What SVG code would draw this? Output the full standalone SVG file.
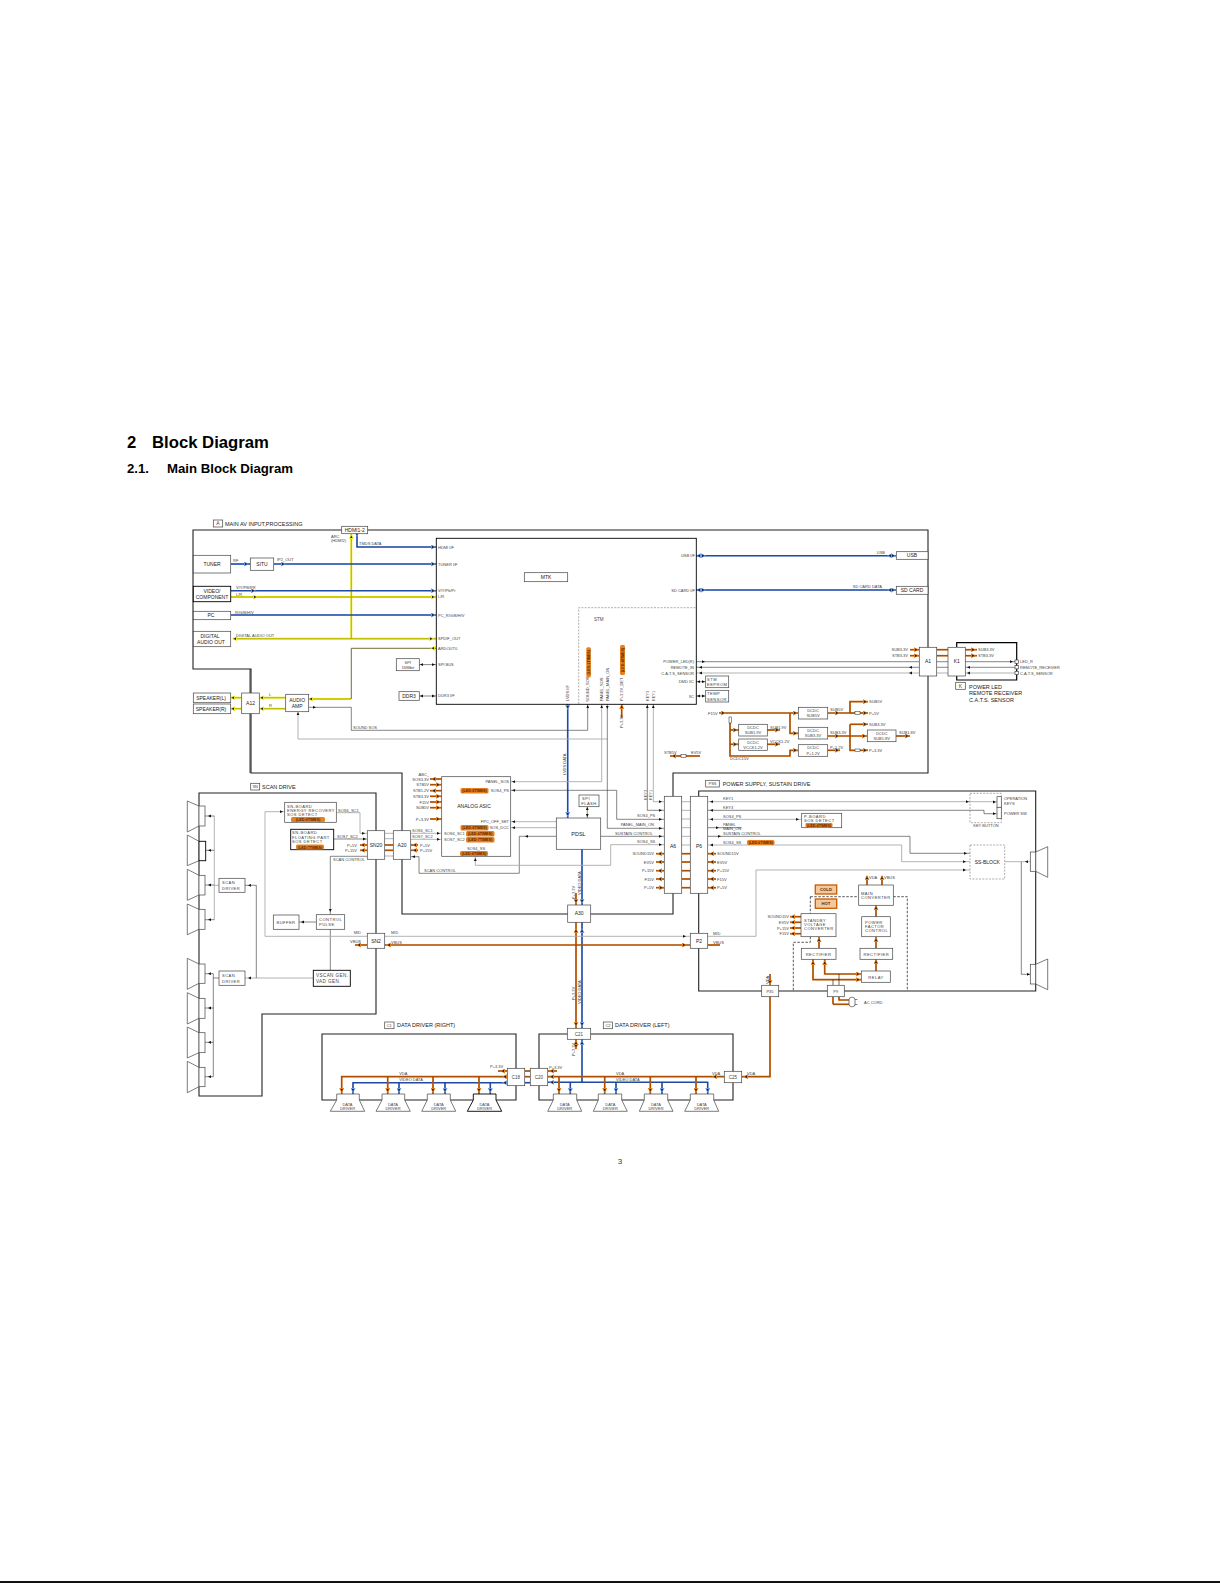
<svg xmlns="http://www.w3.org/2000/svg" width="1220" height="1583" viewBox="0 0 1220 1583">
<style>
text{font-family:"Liberation Sans",Arial,sans-serif;fill:#333}
.h1{font-weight:bold;font-size:16.7px;fill:#000}
.h2{font-weight:bold;font-size:13.2px;fill:#000}
.s{font-size:4px;fill:#444}
#n-energy .s,#n-floating .s,#n-scan1 .s,#n-scan2 .s,#n-control .s,#n-buffer .s,#n-main .s,#n-standby .s,#n-rect1 .s,#n-rect2 .s,#n-pfc .s,#n-relay .s,#n-pboard .s,#n-eeprom .s,#n-temp .s,#n-flash .s{font-size:4.1px;letter-spacing:.45px}
#n-vscan .s{font-size:4.6px;letter-spacing:.4px}
#n-spi .s{font-size:4.2px}
.e{text-anchor:end}
.m{text-anchor:middle}
.t{font-size:5px;text-anchor:middle;fill:#222}
.sec{font-size:5.5px;fill:#222}
.c{font-size:3.7px;text-anchor:middle;fill:#5a2500;font-weight:bold}
.chip{fill:#e8801e;stroke:none}
rect,polygon{fill:#fff;stroke:#444;stroke-width:.7}
.k{stroke:#000;stroke-width:.9}
.bd{stroke:#222;stroke-width:1.1;fill:none}
.bk{stroke:#000;stroke-width:1.2;fill:none}
.ln{stroke:#333;stroke-width:.6;fill:none}
.lg{stroke:#aaa;stroke-width:.9;fill:none}
.O{stroke:#c65c00;stroke-width:1.7;fill:none}
.Oc{stroke:#7a3800;stroke-width:.4;fill:none}
.B{stroke:#2c5fc4;stroke-width:1.6;fill:none}
.Bc{stroke:#0f2a66;stroke-width:.45;fill:none}
.Y{stroke:#e9e400;stroke-width:1.9;fill:none}
.Yc{stroke:#4a4a00;stroke-width:.3;fill:none}
.dk{stroke:#111;stroke-width:.7;stroke-dasharray:2.5 1.5;fill:none}
.dg{stroke:#777;stroke-width:.6;stroke-dasharray:2 1.3;fill:none}
.ho{marker-end:url(#ao);fill:none}
.hb{marker-end:url(#ab);fill:none}
.hy{marker-end:url(#ay);fill:none}
.hk{marker-end:url(#ak);fill:none}
.fuse{fill:#fff;stroke:#222;stroke-width:.5}
</style>
<defs>
<marker id="ak" markerUnits="userSpaceOnUse" markerWidth="4" markerHeight="4" viewBox="0 0 4 4" refX="3" refY="2" orient="auto"><path d="M0 .6L3 2L0 3.4z" fill="#111"/></marker>
<marker id="ao" markerUnits="userSpaceOnUse" markerWidth="5" markerHeight="5" viewBox="0 0 5 5" refX="4" refY="2.5" orient="auto"><path d="M0 0L5 2.5L0 5z" fill="#e8801e"/><path d="M1 1.3L3.6 2.5L1 3.7z" fill="#222"/></marker>
<marker id="ab" markerUnits="userSpaceOnUse" markerWidth="5" markerHeight="5" viewBox="0 0 5 5" refX="4" refY="2.5" orient="auto"><path d="M0 0L5 2.5L0 5z" fill="#6f9be8"/><path d="M1 1.3L3.6 2.5L1 3.7z" fill="#123"/></marker>
<marker id="ay" markerUnits="userSpaceOnUse" markerWidth="5" markerHeight="5" viewBox="0 0 5 5" refX="4" refY="2.5" orient="auto"><path d="M0 0L5 2.5L0 5z" fill="#eeea20"/><path d="M1 1.3L3.6 2.5L1 3.7z" fill="#222"/></marker>
<g id="blueP">
<path d="M357 534V547H436"/><path d="M231 564H250"/><path d="M274 564H436"/><path d="M231 590.7H436"/><path d="M231 615H436"/>
<path d="M696 555.7H896"/><path d="M696 590H896"/><path d="M567.7 704V818"/><path d="M582 849V905"/><path d="M582 922V1028"/><path d="M582 1039V1082.3"/>
<path d="M548 1082.3H707.7V1094"/><path d="M570.3 1082.3V1094"/><path d="M616 1082.3V1094"/><path d="M662 1082.3V1094"/>
<path d="M507 1082.7H353V1094"/><path d="M399 1082.7V1094"/><path d="M445 1082.7V1094"/><path d="M490.3 1082.7V1094"/><path d="M525 1082.7H530"/>
</g>
<g id="yellowP">
<path d="M351.3 534V638.7"/><path d="M233 638.7H436"/><path d="M231 597H436"/><path d="M351 699H309"/><path d="M285.7 697.7H259"/><path d="M285.7 708.7H259"/><path d="M241.7 697.7H231"/><path d="M241.7 708.7H231"/>
</g>
<g id="orangeP">
<path d="M719 713H798"/><path d="M730 723V756H790V750.3H798"/><path d="M730 730H739"/><path d="M730 744.3H739"/><path d="M790 713V733.3H798"/>
<path d="M767 730H780"/><path d="M767 744.3H780"/><path d="M827.7 713H850V701.7H868"/><path d="M850 713H855"/><path d="M860 713H868"/>
<path d="M827.7 736H867"/><path d="M850 724.3H868"/><path d="M850 724.3V750.3H855"/><path d="M860 750.3H868"/><path d="M896 736H910"/><path d="M827.7 750.3H840"/>
<path d="M670 756H681"/><path d="M686 756H700"/><path d="M621.7 704V718"/>
<path d="M910 649.7H919"/><path d="M910 655.7H919"/><path d="M936.7 649.7H948"/><path d="M936.7 655.7H948"/><path d="M965 649.7H977"/><path d="M965 655.7H977"/>
<path d="M430 779H441.7"/><path d="M430 784.7H441.7"/><path d="M430 790.7H441.7"/><path d="M430 796.3H441.7"/><path d="M430 802H441.7"/><path d="M430 807.7H441.7"/><path d="M430 819H441.7"/>
<path d="M410.7 845H418"/><path d="M410.7 850.3H418"/><path d="M384.7 845H393"/><path d="M384.7 850.3H393"/><path d="M367 845H360"/><path d="M367 850.3H360"/>
<path d="M355 945H367"/><path d="M384.7 945H690"/><path d="M707.7 945H720"/>
<path d="M576 893V905"/><path d="M576 922V1028"/><path d="M576 1039V1049"/>
<path d="M656 853.7H664"/><path d="M656 862H664"/><path d="M656 870.7H664"/><path d="M656 879H664"/><path d="M656 887.7H664"/>
<path d="M681.7 853.7H690"/><path d="M681.7 862H690"/><path d="M681.7 870.7H690"/><path d="M681.7 879H690"/><path d="M681.7 887.7H690"/>
<path d="M707.7 853.7H716"/><path d="M707.7 862H716"/><path d="M707.7 870.7H716"/><path d="M707.7 879H716"/><path d="M707.7 887.7H716"/>
<path d="M801 916.7H790"/><path d="M801 922.3H790"/><path d="M801 928H790"/><path d="M801 933.7H790"/>
<path d="M867 885V876"/><path d="M882 885V876"/><path d="M819 948.3V937"/><path d="M876 948.3V937"/><path d="M876 916.7V905.3"/><path d="M876 971V959.3"/>
<path d="M813 959.3V979.7H861"/><path d="M824.7 959.3V974H861"/><path d="M833 1004.3V996.7"/><path d="M833 1004.3H849"/><path d="M839 996.7V1000H849"/>
<path d="M770 974V985.3"/><path d="M770 996.7V1076.7H741.7"/>
<path d="M724 1076.7H548"/><path d="M559 1076.7V1094"/><path d="M604.7 1076.7V1094"/><path d="M650.3 1076.7V1094"/><path d="M696 1076.7V1094"/>
<path d="M548 1071H557"/><path d="M525 1071H530"/><path d="M525 1076.7H530"/><path d="M507 1071H498"/>
<path d="M507 1076.7H341.7V1094"/><path d="M387.7 1076.7V1094"/><path d="M433 1076.7V1094"/><path d="M479 1076.7V1094"/>
</g>
</defs>

<g id="page-text">
<text class="h1" x="127" y="448.3">2</text><text class="h1" x="152" y="448.3">Block Diagram</text>
<text class="h2" x="127" y="473">2.1.</text><text class="h2" x="167" y="473">Main Block Diagram</text>
<text x="620" y="1164" font-size="8" fill="#000" text-anchor="middle">3</text>
<rect x="0" y="1581" width="1220" height="2" style="fill:#111;stroke:none"/>
</g>

<g id="boards">
<path class="bd" d="M193 530H928V773H673V914H402V773H251V669H193z"/>
<path class="bd" d="M199 793H376V1014H262V1096H199z"/>
<path class="bd" d="M698.7 893V791H1035.7V991H698.7V948"/>
<path class="bd" d="M698.7 933V893"/>
<path class="bd" d="M322 1034H516V1100H322z"/>
<path class="bd" d="M539 1034H733V1100H539z"/>
<path class="bk" d="M956.7 647V642.7H1016.7V680H956.7V676"/>
</g>

<g id="connectors">
<use href="#yellowP" class="Y"/><use href="#yellowP" class="Yc"/>
<path class="Yc" d="M436 648.3H351.3V699" style="stroke-width:.8"/>
<use href="#blueP" class="B"/><use href="#blueP" class="Bc"/>
<use href="#orangeP" class="O"/><use href="#orangeP" class="Oc"/>
<path class="ln" d="M419 664.6H436M419 696H436"/>
<path class="ln" d="M308.7 707.3H351.3V730.3H587.7V704"/>
<path class="lg" d="M298 711.7V739H607.3"/>
<path class="ln" d="M607.3 704V828.3H664"/>
<path class="lg" d="M601.7 704V781.7H510.7"/>
<path class="ln" d="M510.7 790.3H616.7V819.3H664"/>
<path class="lg" d="M510.7 821.7H556.3M510.7 827.7H556.3"/>
<path class="ln" d="M556.3 836.3H519.3V873.3H419V856.7H410.7"/>
<path class="lg" d="M664 844.7H610.7V865.3H475.3V856.3"/>
<path class="ln" d="M600.7 836.3H664"/>
<path class="ln" d="M587.3 806.7V818"/>
<path class="ln" d="M647.3 704V810.3H664"/>
<path class="lg" d="M653.3 704V801.7H664"/>
<path class="lg" d="M681.7 801.7H690M681.7 810.3H690M681.7 819H690M681.7 827.7H690M681.7 836.3H690M681.7 845H690"/>
<path class="lg" d="M410.7 833.3H441.7M410.7 839.3H441.7M384.7 833.3H393M384.7 838.7H393M384.7 856H393"/>
<path class="lg" d="M336.3 812.7H360V833.3H367"/>
<path class="ln" d="M333.7 839H367"/>
<path class="ln" d="M367 856.3H330.3V914.3"/>
<path class="ln" d="M330.3 929.3V970.3"/>
<path class="ln" d="M316.3 922H299"/>
<path class="lg" d="M284.7 811.7H265V936.3H367"/>
<path class="lg" d="M384.7 936.3H690"/>
<path class="lg" d="M245 978H313.3"/>
<path class="ln" d="M245 885.3H256.3V978"/>
<path class="ln" d="M219 978H213.3M213.3 973.7V1076.7M213.3 973.7H205M213.3 1008H205M213.3 1042.3H205M213.3 1076.7H205"/>
<path class="lg" d="M219 885.3H214.3M214.3 816V919.7"/>
<path class="ln" d="M214.3 816H205M214.3 850.3H205M214.3 885H205M214.3 919.7H205"/>
<path class="lg" d="M696 673H919M936.7 673H948M965 673H1015"/>
<path class="ln" d="M696 661.7H919M936.7 661.7H948M965 661.7H1015M696 667.3H919M936.7 667.3H948M965 667.3H1015"/>
<path class="ln" d="M696 681.7H705.7M696 696H705.7"/>
<path class="lg" d="M707.7 801.7H996.7M707.7 819.3H801.7"/>
<path class="ln" d="M707.7 810.3H984V813.7H996.7"/>
<path class="ln" d="M707.7 827.7H741.7"/>
<path class="ln" d="M707.7 836.3H910V853.3H970"/>
<path class="lg" d="M707.7 845H901.7V861.7H970"/>
<path class="lg" d="M707.7 936.3H756V870H970"/>
<path class="lg" d="M1004.7 861.7H1030.3"/>
<path class="ln" d="M1021.3 861.7V974.3H1030.3"/>

<path class="ho" d="M917 649.7h1"/><path class="ho" d="M917 655.7h1"/><path class="ho" d="M974 649.7h1"/><path class="ho" d="M974 655.7h1"/>
<path class="hk" d="M1012 661.7h1"/><path class="hk" d="M968 667.3h-1"/><path class="hk" d="M968 673h-1"/><path class="hk" d="M910 667.3h-1"/><path class="hk" d="M910 673h-1"/><path class="hk" d="M704 661.7h1"/><path class="hk" d="M700 667.3h-1"/><path class="hk" d="M700 673h-1"/>
<path class="hb" d="M434 547h1"/><path class="hb" d="M357 535v1"/><path class="hb" d="M247 564h1"/><path class="hb" d="M284 564h1"/><path class="hb" d="M434 564h1"/><path class="hb" d="M254 590.7h1"/><path class="hb" d="M434 590.7h1"/><path class="hb" d="M434 615h1"/>
<path class="hy" d="M256 597h1"/><path class="hy" d="M434 597h1"/><path class="hy" d="M234 638.7h-1"/><path class="hy" d="M432 638.7h1"/><path class="hy" d="M351.3 536v-1"/><path class="hy" d="M432 648.3h-1"/><path class="hy" d="M310 699h-1"/>
<path class="hy" d="M232 697.7h-1"/><path class="hy" d="M232 708.7h-1"/><path class="hy" d="M261 697.7h-1"/><path class="hy" d="M261 708.7h-1"/>
<path class="hk" d="M315 707.3h1"/><path class="hk" d="M298 713v-1"/><path class="hk" d="M421 664.6h-1"/><path class="hk" d="M434 664.6h1"/><path class="hk" d="M421 696h-1"/><path class="hk" d="M434 696h1"/>
<path class="hk" d="M587.7 706v-1"/><path class="hk" d="M601.7 706v-1"/><path class="hk" d="M607.3 708v1"/><path class="hk" d="M647.3 706v-1"/><path class="hk" d="M653.3 706v-1"/>
<path class="ho" d="M621.7 707v-2"/>
<path class="hb" d="M567.7 708v1"/><path class="hb" d="M567.7 815v1"/><path class="hb" d="M698 555.7h-1"/><path class="hb" d="M704 555.7h1"/><path class="hb" d="M889 555.7h-1"/><path class="hb" d="M894 555.7h1"/><path class="hb" d="M698 590h-1"/><path class="hb" d="M704 590h1"/><path class="hb" d="M889 590h-1"/><path class="hb" d="M894 590h1"/>
<path class="hk" d="M698 681.7h-1"/><path class="hk" d="M704 681.7h1"/><path class="hk" d="M698 696h-1"/><path class="hk" d="M704 696h1"/>
<path class="ho" d="M724 713h1"/><path class="ho" d="M796 713h1"/><path class="ho" d="M796 733.3h1"/><path class="ho" d="M796 750.3h1"/><path class="ho" d="M736 730h1"/><path class="ho" d="M736 744.3h1"/><path class="ho" d="M778 730h1"/><path class="ho" d="M778 744.3h1"/>
<path class="ho" d="M838 713h1"/><path class="ho" d="M838 736h1"/><path class="ho" d="M838 750.3h1"/><path class="ho" d="M866 701.7h1"/><path class="ho" d="M866 713h1"/><path class="ho" d="M866 724.3h1"/><path class="ho" d="M865 736h1"/><path class="ho" d="M866 750.3h1"/><path class="ho" d="M908 736h1"/>
<path class="ho" d="M673 756h-1"/>
<path class="hk" d="M513 781.7h-1"/><path class="hk" d="M513 790.3h-1"/><path class="hk" d="M513 821.7h-1"/><path class="hk" d="M513 827.7h-1"/><path class="hk" d="M526 836.3h-1"/><path class="hk" d="M413 856.7h-1"/><path class="hk" d="M475.3 859v-1"/>
<path class="hk" d="M439 833.3h1"/><path class="hk" d="M439 839.3h1"/><path class="hk" d="M587.3 808v-1"/><path class="hk" d="M587.3 816v1"/>
<path class="hk" d="M661 801.7h1"/><path class="hk" d="M661 810.3h1"/><path class="hk" d="M661 819.3h1"/><path class="hk" d="M661 828.3h1"/><path class="hk" d="M661 836.3h1"/><path class="hk" d="M661 844.7h1"/>
<path class="ho" d="M659 853.7h-1"/><path class="ho" d="M659 862h-1"/><path class="ho" d="M659 870.7h-1"/><path class="ho" d="M659 879h-1"/><path class="ho" d="M662 887.7h1"/>
<path class="ho" d="M711 853.7h-1"/><path class="ho" d="M711 862h-1"/><path class="ho" d="M711 870.7h-1"/><path class="ho" d="M711 879h-1"/><path class="ho" d="M711 887.7h-1"/>
<path class="hk" d="M711 801.7h-1"/><path class="hk" d="M711 810.3h-1"/><path class="hk" d="M711 819.3h-1"/><path class="hk" d="M798 819.3h1"/><path class="hk" d="M718 827.7h1"/><path class="hk" d="M720 836.3h1"/><path class="hk" d="M711 845h-1"/>
<path class="ho" d="M433 779h-1"/><path class="ho" d="M439 784.7h1"/><path class="ho" d="M433 790.7h-1"/><path class="ho" d="M439 796.3h1"/><path class="ho" d="M439 802h1"/><path class="ho" d="M439 807.7h1"/><path class="ho" d="M439 819h1"/>
<path class="ho" d="M414 845h-1"/><path class="ho" d="M414 850.3h-1"/><path class="ho" d="M362 845h-1"/><path class="ho" d="M362 850.3h-1"/>
<path class="hk" d="M364 833.3h1"/><path class="hk" d="M365 839h1"/><path class="hk" d="M330.3 911v1"/><path class="hk" d="M302 922h-1"/><path class="hk" d="M282 811.7h1"/><path class="hk" d="M249 885.3h-1"/><path class="hk" d="M249 978h-1"/>
<path class="hk" d="M209 816h-1"/><path class="hk" d="M209 850.3h-1"/><path class="hk" d="M209 885h-1"/><path class="hk" d="M209 919.7h-1"/><path class="hk" d="M209 973.7h-1"/><path class="hk" d="M209 1008h-1"/><path class="hk" d="M209 1042.3h-1"/><path class="hk" d="M209 1076.7h-1"/>
<path class="hk" d="M685 936.3h1"/><path class="ho" d="M358 945h-1"/><path class="ho" d="M388 945h-1"/><path class="ho" d="M685 945h1"/>
<path class="ho" d="M576 902v1"/><path class="hb" d="M582 902v1"/><path class="ho" d="M576 930v-1"/><path class="hb" d="M582 930v-1"/><path class="ho" d="M576 1025v1"/><path class="hb" d="M582 1025v1"/><path class="ho" d="M576 1042v-1"/><path class="hb" d="M582 1042v-1"/><path class="ho" d="M576 1047v1"/>
<path class="ho" d="M551 1071h-1"/><path class="ho" d="M551 1076.7h-1"/><path class="hb" d="M551 1082.3h-1"/><path class="ho" d="M714 1076.7h-1"/><path class="ho" d="M745 1076.7h-1"/>
<path class="ho" d="M559 1091v1"/><path class="ho" d="M604.7 1091v1"/><path class="ho" d="M650.3 1091v1"/><path class="ho" d="M696 1091v1"/><path class="hb" d="M570.3 1091v1"/><path class="hb" d="M616 1091v1"/><path class="hb" d="M662 1091v1"/><path class="hb" d="M707.7 1091v1"/>
<path class="ho" d="M341.7 1091v1"/><path class="ho" d="M387.7 1091v1"/><path class="ho" d="M433 1091v1"/><path class="ho" d="M479 1091v1"/><path class="hb" d="M353 1091v1"/><path class="hb" d="M399 1091v1"/><path class="hb" d="M445 1091v1"/><path class="hb" d="M490.3 1091v1"/>
<path class="ho" d="M502 1071h-1"/><path class="ho" d="M504 1076.7h-1"/><path class="hb" d="M504 1082.7h-1"/>
<path class="hk" d="M966 853.3h1"/><path class="hk" d="M965 861.7h1"/><path class="hk" d="M965 870h1"/><path class="hk" d="M968 801.7h1"/><path class="hk" d="M995 802h1"/><path class="hk" d="M995 813.7h1"/><path class="hk" d="M1029 974.3h1"/><path class="hk" d="M1026 861.7h-1"/>
<path class="ho" d="M867 878v-2"/><path class="ho" d="M882 878v-2"/><path class="ho" d="M819 940v-2"/><path class="ho" d="M876 940v-2"/><path class="ho" d="M876 908v-2"/><path class="ho" d="M876 962v-2"/>
<path class="ho" d="M792 916.7h-1"/><path class="ho" d="M792 922.3h-1"/><path class="ho" d="M792 928h-1"/><path class="ho" d="M792 933.7h-1"/>
<path class="ho" d="M813 962v-1"/><path class="ho" d="M824.7 962v-1"/><path class="ho" d="M859 974h1"/><path class="ho" d="M859 979.7h1"/><path class="ho" d="M770 982v2"/>
<path class="k" d="M833 985.3V979.7M839 985.3V974" style="stroke-width:.6"/>
<path class="dk" d="M810.3 896.7V913.7M810.3 896.7H858.7M893.3 896.7H907.3V991"/>
<path class="dk" d="M810.3 936.7V942.3H793.3V991"/>
</g>

<g id="n-section-labels">
<rect x="213.3" y="520" width="9.4" height="7"/><text class="s m" x="218" y="525.4" style="font-size:5px">A</text><text class="sec" x="225" y="525.7">MAIN AV INPUT,PROCESSING</text>
<rect x="250.7" y="783.3" width="9" height="6.7"/><text class="s m" x="255.2" y="788.3">SN</text><text class="sec" x="262" y="788.7">SCAN DRIVE</text>
<rect x="705.7" y="780.3" width="13.6" height="6.7"/><text class="s m" x="712.5" y="785.3">PSS</text><text class="sec" x="722.7" y="786">POWER SUPPLY, SUSTAIN DRIVE</text>
<rect x="384.7" y="1022" width="9.3" height="6.7"/><text class="s m" x="389.3" y="1027">C1</text><text class="sec" x="397" y="1027">DATA DRIVER (RIGHT)</text>
<rect x="603.3" y="1022" width="9.3" height="6.7"/><text class="s m" x="608" y="1027">C2</text><text class="sec" x="615" y="1027">DATA DRIVER (LEFT)</text>
<rect x="955.7" y="682.3" width="9.6" height="7"/><text class="s m" x="960.5" y="687.7" style="font-size:5px">K</text>
<text class="sec" x="969" y="688.5">POWER LED</text><text class="sec" x="969" y="695.2">REMOTE RECEIVER</text><text class="sec" x="969" y="702">C.A.T.S. SENSOR</text>
</g>

<g id="n-hdmi"><rect x="341.7" y="526.3" width="26" height="7.4"/><text class="t" x="354.7" y="531.8">HDMI1-2</text></g>
<g id="n-tuner"><rect x="193.3" y="555.3" width="37.4" height="17.7"/><text class="t" x="212" y="565.5">TUNER</text></g>
<g id="n-situ"><rect x="250.3" y="558" width="23.4" height="12.3"/><text class="t" x="262" y="566">SITU</text></g>
<g id="n-video"><rect class="k" x="193.3" y="586.3" width="37.4" height="15.4"/><text class="t" x="212" y="593">VIDEO/</text><text class="t" x="212" y="599">COMPONENT</text></g>
<g id="n-pc"><rect x="193.3" y="611.3" width="37.4" height="8.4"/><text class="t" x="211" y="617.3">PC</text></g>
<g id="n-digital"><rect x="193.3" y="631.3" width="37.4" height="15.4"/><text class="t" x="210" y="637.5">DIGITAL</text><text class="t" x="211" y="643.7">AUDIO OUT</text></g>
<g id="n-spkl"><rect x="193.3" y="693" width="37.4" height="9.7"/><text class="t" x="211" y="699.7">SPEAKER(L)</text></g>
<g id="n-spkr"><rect x="193.3" y="704" width="37.4" height="9.7"/><text class="t" x="211" y="710.7">SPEAKER(R)</text></g>
<g id="n-a12"><rect x="241.7" y="693" width="17.6" height="20.7"/><text class="t" x="250.5" y="705">A12</text></g>
<path class="bd" d="M250 669V693M250 713.7V773" style="stroke-width:.9"/>
<g id="n-amp"><rect x="285.7" y="694.3" width="23" height="17.4"/><text class="t" x="297.2" y="702">AUDIO</text><text class="t" x="297.2" y="708">AMP</text></g>
<g id="n-spi"><rect x="396.3" y="658.7" width="23" height="12"/><text class="s m" x="407.8" y="663.5">SPI</text><text class="s m" x="407.8" y="668.5">16Mbit</text></g>
<g id="n-ddr3"><rect x="399" y="691.7" width="20.3" height="8.6"/><text class="t" x="409" y="697.8">DDR3</text></g>

<g id="n-mtk">
<rect class="k" x="436.3" y="538.3" width="260" height="166" style="fill:none"/>
<rect x="524.3" y="572.7" width="43.4" height="9"/><text class="t" x="546" y="579">MTK</text>
<path class="dg" d="M578.7 704V607.7H696"/>
<text class="s" x="594" y="620.5" style="font-size:4.5px">STM</text>
<text class="s" x="438" y="548.5">HDMI I/F</text><text class="s" x="438" y="566">TUNER I/F</text><text class="s" x="438" y="592">V/Y/Pb/Pr</text><text class="s" x="438" y="598">L/R</text><text class="s" x="438" y="616.5">PC_R/G/B/H/V</text><text class="s" x="438" y="640">SPDIF_OUT</text><text class="s" x="438" y="650">ARDOUT0</text><text class="s" x="438" y="666">SPI BUS</text><text class="s" x="438" y="697">DDR3 I/F</text>
<text class="s e" x="695" y="557">USB I/F</text><text class="s e" x="695" y="591.5">SD CARD I/F</text><text class="s e" x="694" y="663">POWER_LED(R)</text><text class="s e" x="694" y="669">REMOTE_IN</text><text class="s e" x="694" y="674.5">C.A.T.S_SENSOR</text><text class="s e" x="694" y="683">DMD I/C</text><text class="s e" x="694" y="697.5">IIC</text>
<text class="s" transform="translate(569.3,701) rotate(-90)">LVDS I/F</text>
<text class="s" transform="translate(589.3,701.7) rotate(-90)">SOUND_SOS</text>
<rect class="chip" x="586.3" y="647.3" width="4.6" height="30" rx="1.5"/><text class="c" transform="translate(589.8,662.3) rotate(-90)">(LED:1TIMES)</text>
<text class="s" transform="translate(603.3,701) rotate(-90)">PANEL_SOS</text>
<text class="s" transform="translate(609.3,701) rotate(-90)">PANEL_MAIN_ON</text>
<text class="s" transform="translate(623.3,701) rotate(-90)">P+3.3V_DET</text>
<rect class="chip" x="620" y="645" width="5" height="30" rx="1.5"/><text class="c" transform="translate(623.8,660) rotate(-90)">(LED:8TIMES)</text>
<text class="s" transform="translate(648.8,701) rotate(-90)">KEY3</text>
<text class="s" transform="translate(654.8,701) rotate(-90)">KEY1</text>
</g>

<g id="n-usb"><rect x="896.3" y="551.7" width="31.7" height="7.6"/><text class="t" x="912" y="557.3">USB</text></g>
<g id="n-sd"><rect x="896.3" y="586.3" width="31.7" height="8"/><text class="t" x="912" y="592.2">SD CARD</text></g>
<g id="n-a1"><rect x="919.3" y="647.3" width="17.4" height="28.7"/><text class="t" x="928" y="663">A1</text></g>
<g id="n-k1"><rect x="948" y="647.3" width="17.3" height="28.7"/><text class="t" x="956.7" y="663">K1</text></g>
<g id="n-sensors"><rect x="1015" y="660" width="3.3" height="3.3"/><rect x="1015" y="665.6" width="3.3" height="3.3"/><rect x="1015" y="671.3" width="3.3" height="3.3"/></g>
<g id="n-eeprom"><rect x="705.7" y="676" width="23" height="11.7"/><text class="s" x="707" y="681">STM</text><text class="s" x="707" y="686">EEPROM</text></g>
<g id="n-temp"><rect x="705.7" y="690.3" width="23" height="11.7"/><text class="s" x="707" y="695">TEMP</text><text class="s" x="707" y="700.5">SENSOR</text></g>
<g id="n-dcdc1"><rect x="798.3" y="707.3" width="29.4" height="11.7"/><text class="s m" x="813" y="712">DCDC</text><text class="s m" x="813" y="717.3">SUB5V</text></g>
<g id="n-dcdc2"><rect x="798.3" y="727.3" width="29.4" height="11.7"/><text class="s m" x="813" y="732">DCDC</text><text class="s m" x="813" y="737.3">SUB3.3V</text></g>
<g id="n-dcdc3"><rect x="798.3" y="744.7" width="29.4" height="11.6"/><text class="s m" x="813" y="749.3">DCDC</text><text class="s m" x="813" y="754.7">P+1.2V</text></g>
<g id="n-dcdc4"><rect x="738.7" y="724.3" width="28.6" height="11.7"/><text class="s m" x="753" y="729">DCDC</text><text class="s m" x="753" y="734.3">SUB1.9V</text></g>
<g id="n-dcdc5"><rect x="738.7" y="739" width="28.6" height="11.3"/><text class="s m" x="753" y="743.5">DCDC</text><text class="s m" x="753" y="748.8">VCCK1.2V</text></g>
<g id="n-dcdc6"><rect x="867.3" y="730" width="28.7" height="11.7"/><text class="s m" x="881.7" y="734.7">DCDC</text><text class="s m" x="881.7" y="740">SUB1.8V</text></g>
<g id="n-fuses"><rect class="fuse" x="855" y="711.7" width="5" height="2.6"/><rect class="fuse" x="855" y="749" width="5" height="2.6"/><rect class="fuse" x="681" y="754.7" width="5" height="2.6"/><rect class="fuse" x="729" y="717" width="2.4" height="6"/></g>

<g id="top-labels">
<text class="s" x="331" y="538">ARC</text><text class="s" x="331" y="541.5">(HDMI2)</text>
<text class="s" x="359" y="545">TMDS DATA</text><text class="s" x="233" y="562">RF</text><text class="s" x="277" y="561">IP2_OUT</text>
<text class="s" x="236" y="589">V/Y/PB/PR</text><text class="s" x="236" y="595.5">L/R</text><text class="s" x="235" y="614">R/G/B/H/V</text><text class="s" x="236" y="637">DIGITAL AUDIO OUT</text>
<text class="s" x="269" y="695.5">L</text><text class="s" x="269" y="706.5">R</text><text class="s" x="353" y="729">SOUND SOS</text>
<text class="s e" x="885" y="554">USB</text><text class="s e" x="882" y="588">SD CARD DATA</text>
<text class="s e" x="908" y="651">SUB3.3V</text><text class="s e" x="908" y="657">STB3.3V</text><text class="s" x="978" y="651">SUB3.3V</text><text class="s" x="978" y="657">STB3.3V</text>
<text class="s" x="1020" y="663">LED_R</text><text class="s" x="1020" y="669">REMOTE_RECEIVER</text><text class="s" x="1020" y="674.5">C.A.T.S_SENSOR</text>
<text class="s" x="708" y="714.5">F15V</text><text class="s" x="730" y="760">DCDC15V</text><text class="s" x="770" y="728.5">SUB1.9V</text><text class="s" x="770" y="742.5">VCCK1.2V</text>
<text class="s" x="830" y="711">SUB5V</text><text class="s" x="869" y="703.2">SUB5V</text><text class="s" x="869" y="714.5">P+5V</text><text class="s" x="830" y="734">SUB3.3V</text><text class="s" x="869" y="725.8">SUB3.3V</text><text class="s" x="869" y="751.8">P+3.3V</text><text class="s" x="899" y="733.5">SUB1.8V</text><text class="s" x="830" y="748.5">P+1.2V</text>
<text class="s" x="664" y="754">STB5V</text><text class="s" x="691" y="754">EV5V</text>
<text class="s" transform="translate(623.3,728) rotate(-90)">P+3.3V</text>
<text class="s" transform="translate(566,775) rotate(-90)">LVDS DATA</text>
<text class="s" transform="translate(646.5,800) rotate(-90)">KEY3</text><text class="s" transform="translate(652.3,800) rotate(-90)">KEY1</text>
</g>

<g id="n-asic">
<rect x="441.7" y="776.7" width="69" height="79.6"/>
<text class="t" x="474" y="807.5">ANALOG ASIC</text>
<text class="s e" x="509" y="783">PANEL_SOS</text><text class="s e" x="509" y="792">SOS4_PS</text>
<rect class="chip" x="460.5" y="788" width="28" height="5.4" rx="1.5"/><text class="c" x="474.5" y="792">(LED:6TIMES)</text>
<text class="s e" x="509" y="823">FPC_OFF_SET</text><text class="s e" x="509" y="829">SOS_DCC</text>
<rect class="chip" x="460.5" y="825" width="28" height="5.4" rx="1.5"/><text class="c" x="474.5" y="829">(LED:6TIMES)</text>
<text class="s" x="444" y="835">SOS6_SC1</text><rect class="chip" x="466" y="831" width="28.5" height="5.4" rx="1.5"/><text class="c" x="480" y="835">(LED:6TIMES)</text>
<text class="s" x="444" y="841">SOS7_SC2</text><rect class="chip" x="466" y="837" width="28.5" height="5.4" rx="1.5"/><text class="c" x="480" y="841">(LED:7TIMES)</text>
<text class="s m" x="476" y="850">SOS4_SS</text><rect class="chip" x="460" y="851" width="28" height="5" rx="1.5"/><text class="c" x="474" y="855">(LED:6TIMES)</text>
<text class="s e" x="429" y="776">ABC_</text><text class="s e" x="429" y="780.5">SOS3.3V</text><text class="s e" x="429" y="786">STB5V</text><text class="s e" x="429" y="792">STB1.2V</text><text class="s e" x="429" y="798">STB3.3V</text><text class="s e" x="429" y="803.5">F15V</text><text class="s e" x="429" y="809">SUB5V</text><text class="s e" x="429" y="820.5">P+3.3V</text>
</g>
<g id="n-pdsl"><rect x="556.3" y="818" width="44.4" height="31.3"/><text class="t" x="578.5" y="835.5" style="font-size:5.5px">PDSL</text></g>
<g id="n-flash"><rect x="579" y="795" width="20" height="11.7"/><text class="s m" x="586" y="800">SPI</text><text class="s m" x="589" y="805">FLASH</text></g>
<g id="n-a30"><rect x="567.7" y="905" width="23" height="17.3"/><text class="t" x="579.2" y="915.3">A30</text></g>
<g id="n-a20"><rect x="393.3" y="830.7" width="17.4" height="28.6"/><text class="t" x="402" y="846.5">A20</text></g>
<g id="n-sn20"><rect x="367.3" y="830.7" width="17.4" height="28.6"/><text class="t" x="376" y="846.5">SN20</text></g>
<g id="n-sn2"><rect x="367.3" y="933.3" width="17.4" height="15"/><text class="t" x="376" y="942.8">SN2</text></g>
<g id="n-p2"><rect x="690.3" y="933.3" width="17.4" height="15"/><text class="t" x="699" y="942.8">P2</text></g>
<g id="n-a6"><rect x="664.3" y="796.3" width="17.4" height="97"/><text class="t" x="673" y="847.5">A6</text></g>
<g id="n-p6"><rect x="690.3" y="796.3" width="17.4" height="97"/><text class="t" x="699" y="847.5">P6</text></g>

<g id="mid-labels">
<text class="s" x="412" y="832">SOS6_SC1</text><text class="s" x="412" y="838">SOS7_SC2</text><text class="s" x="420" y="846.5">P+5V</text><text class="s" x="420" y="852">P+15V</text><text class="s" x="424" y="872">SCAN CONTROL</text>
<text class="s" x="338" y="812">SOS6_SC1</text><text class="s" x="337" y="837.5">SOS7_SC2</text><text class="s e" x="357" y="846.5">P+5V</text><text class="s e" x="357" y="852">P+15V</text><text class="s" x="333" y="860.5">SCAN CONTROL</text>
<text class="s e" x="361" y="934">MID</text><text class="s e" x="361" y="943">VBUS</text><text class="s" x="391" y="934">MID</text><text class="s" x="391" y="944">VBUS</text>
<text class="s" x="713" y="934.5">MID</text><text class="s" x="713" y="943.5">VBUS</text>
<text class="s" x="637" y="817">SOS4_PS</text><text class="s" x="620.7" y="826">PANEL_MAIN_ON</text><text class="s" x="615" y="834.5">SUSTAIN CONTROL</text><text class="s" x="637" y="843">SOS4_SS</text>
<text class="s e" x="654" y="855">SOUND15V</text><text class="s e" x="654" y="863.5">EV5V</text><text class="s e" x="654" y="872">P+15V</text><text class="s e" x="654" y="880.5">F15V</text><text class="s e" x="654" y="889">P+5V</text>
<text class="s" x="717" y="855">SOUND15V</text><text class="s" x="717" y="863.5">EV5V</text><text class="s" x="717" y="872">P+15V</text><text class="s" x="717" y="880.5">F15V</text><text class="s" x="717" y="889">P+5V</text>
<text class="s" x="723" y="800">KEY1</text><text class="s" x="723" y="809">KEY3</text><text class="s" x="723" y="818">SOS4_PS</text><text class="s" x="723" y="825.5">PANEL</text><text class="s" x="723" y="829.8">MAIN_ON</text><text class="s" x="723" y="835">SUSTAIN CONTROL</text><text class="s" x="723" y="843.5">SOS4_SS</text>
<rect class="chip" x="747" y="840" width="27.5" height="5" rx="1.5"/><text class="c" x="760.7" y="844">(LED:6TIMES)</text>
<text class="s" transform="translate(575,899) rotate(-90)">E+3.3V</text><text class="s" transform="translate(581,895) rotate(-90)">VIDEO DATA</text>
<text class="s" transform="translate(575,1000) rotate(-90)">P+3.3V</text><text class="s" transform="translate(581,1004) rotate(-90)">VIDEO DATA</text>
<text class="s" transform="translate(575,1056) rotate(-90)">P+3.3V</text>
<text class="s" transform="translate(768.5,984) rotate(-90)">VDA</text>
</g>

<g id="n-energy"><rect x="284.7" y="802.3" width="51.6" height="20"/><text class="s" x="287" y="807.5">SN-BOARD</text><text class="s" x="287" y="811.7">ENERGY RECOVERY</text><text class="s" x="287" y="815.7">SOS DETECT</text><rect class="chip" x="291" y="817" width="34" height="5" rx="1.5"/><text class="c" x="308" y="821">(LED:6TIMES)</text></g>
<g id="n-floating"><rect class="k" x="290.7" y="829.3" width="43" height="20.4"/><text class="s" x="292" y="834">SN-BOARD</text><text class="s" x="292" y="838.5">FLOATING PART</text><text class="s" x="292" y="843">SOS DETECT</text><rect class="chip" x="296" y="844.5" width="28" height="5" rx="1.5"/><text class="c" x="310" y="848.5">(LED:7TIMES)</text></g>
<g id="n-scan1"><rect x="219" y="878.3" width="26" height="14"/><text class="s" x="222" y="884">SCAN</text><text class="s" x="222" y="889.5">DRIVER</text></g>
<g id="n-scan2"><rect x="219" y="971" width="26" height="14.3"/><text class="s" x="222" y="977">SCAN</text><text class="s" x="222" y="982.5">DRIVER</text></g>
<g id="n-control"><rect x="316.3" y="914.7" width="28.4" height="14.6"/><text class="s" x="319" y="921">CONTROL</text><text class="s" x="319" y="926">PULSE</text></g>
<g id="n-buffer"><rect x="273.3" y="915" width="25.7" height="14.3"/><text class="s m" x="286" y="924">BUFFER</text></g>
<g id="n-vscan"><rect class="k" x="313.3" y="970.3" width="37" height="16"/><text class="s" x="316" y="977">VSCAN GEN.</text><text class="s" x="316" y="983">VAD GEN.</text></g>

<g id="n-scan-panels">
<polygon points="199,806 187.3,801 187.3,832 199,826"/><rect x="199" y="806" width="6" height="20"/>
<polygon points="199,841.3 187.3,835 187.3,865.7 199,860.7"/><rect class="k" x="199" y="841.3" width="6.7" height="19.4"/>
<polygon points="199,875.3 187.3,869.3 187.3,900.3 199,895"/><rect x="199" y="875.3" width="6" height="19.7"/>
<polygon points="199,909.3 187.3,904 187.3,934.7 199,929.3"/><rect x="199" y="909.3" width="6" height="20"/>
<polygon points="199,964 187.3,958.3 187.3,989.3 199,983.3"/><rect x="199" y="964" width="6" height="19.3"/>
<polygon points="199,998.3 187.3,992.7 187.3,1024 199,1018.3"/><rect x="199" y="998.3" width="6" height="20"/>
<polygon points="199,1032.7 187.3,1027 187.3,1058 199,1052.7"/><rect x="199" y="1032.7" width="6" height="20"/>
<polygon points="199,1067.3 187.3,1061.3 187.3,1092.7 199,1086.7"/><rect x="199" y="1067.3" width="6" height="19.4"/>
</g>

<g id="n-pboard"><rect x="801.7" y="813.3" width="40" height="14.4"/><text class="s" x="804" y="818">P-BOARD</text><text class="s" x="804" y="822.3">SOS DETECT</text><rect class="chip" x="805.5" y="823" width="27" height="4.6" rx="1"/><text class="c" x="819" y="826.7">(LED:6TIMES)</text></g>
<g id="n-keys"><rect class="dg" x="970" y="793.3" width="31.3" height="29.4" style="fill:none"/><rect x="997" y="796.7" width="4.3" height="10.6"/><rect x="997" y="807.3" width="4.3" height="11.4"/><text class="s" x="1004" y="799.5">OPERATION</text><text class="s" x="1004" y="804.5">KEYS</text><text class="s" x="1004" y="815">POWER SW</text><text class="s m" x="986" y="827">KEY BUTTON</text></g>
<g id="n-ss"><rect class="dg" x="970" y="845" width="34.7" height="34" style="fill:#fff"/><text class="t" x="987.3" y="864">SS-BLOCK</text></g>
<g id="n-spk"><polygon points="1035.7,852 1047.7,846.7 1047.7,877.3 1035.7,871.3"/><rect x="1030.3" y="852" width="5.4" height="19.3"/><polygon points="1035.7,964.3 1047.7,959 1047.7,989.7 1035.7,984"/><rect x="1030.3" y="964.3" width="5.4" height="19.7"/></g>

<g id="n-cold"><rect x="815.3" y="885" width="21.4" height="9" style="fill:#f4c89a;stroke:#c65c00;stroke-width:1.3"/><text class="c" x="826" y="891" style="font-size:4.2px">COLD</text></g>
<g id="n-hot"><rect x="815.3" y="899" width="21.4" height="9.3" style="fill:#f4c89a;stroke:#c65c00;stroke-width:1.3"/><text class="c" x="826" y="905.2" style="font-size:4.2px">HOT</text></g>
<g id="n-main"><rect x="858.7" y="885" width="34.6" height="20.3"/><text class="s" x="861" y="894.5">MAIN</text><text class="s" x="861" y="898.5">CONVERTER</text></g>
<g id="n-standby"><rect x="801" y="913.7" width="35" height="23"/><text class="s" x="804" y="921.5">STANDBY</text><text class="s" x="804" y="925.5">VOLTAGE</text><text class="s" x="804" y="930">CONVERTER</text></g>
<g id="n-rect1"><rect x="801.3" y="948.3" width="34.7" height="11"/><text class="s m" x="818.5" y="955.5">RECTIFIER</text></g>
<g id="n-rect2"><rect x="860" y="948.3" width="32.7" height="11"/><text class="s m" x="876.3" y="955.5">RECTIFIER</text></g>
<g id="n-pfc"><rect x="861.7" y="916.7" width="28.6" height="20"/><text class="s" x="865" y="923.5">POWER</text><text class="s" x="865" y="927.5">FACTOR</text><text class="s" x="865" y="932">CONTROL</text></g>
<g id="n-relay"><rect x="861.3" y="971" width="29" height="11.3"/><text class="s m" x="876" y="978.5">RELAY</text></g>
<g id="n-p9"><rect x="827.3" y="985.3" width="17" height="11.4"/><text class="s m" x="835.8" y="992.5">P9</text></g>
<g id="n-p35"><rect x="761.7" y="985.3" width="17" height="11.4"/><text class="s m" x="770" y="992.5">P35</text></g>
<g id="n-plug"><rect x="849" y="997.3" width="6" height="9.4" rx="2.5"/><path class="ln" d="M855 999.5h2.5M855 1004.5h2.5"/><text class="s" x="864" y="1004">AC CORD</text></g>
<g id="power-labels">
<text class="s" x="869" y="879">VDA</text><text class="s" x="884" y="879">VBUS</text>
<text class="s e" x="789" y="918">SOUND15V</text><text class="s e" x="789" y="924">EV5V</text><text class="s e" x="789" y="930">P+15V</text><text class="s e" x="789" y="935">F15V</text>
</g>

<g id="n-c21"><rect x="567.3" y="1028.3" width="23.4" height="11"/><text class="s m" x="579" y="1035.5" style="font-size:4.5px">C21</text></g>
<g id="n-c18"><rect x="507.3" y="1068.3" width="17.4" height="17.4"/><text class="s m" x="516" y="1078.5" style="font-size:4.5px">C18</text></g>
<g id="n-c20"><rect x="530.3" y="1068.3" width="17.4" height="17.4"/><text class="s m" x="539" y="1078.5" style="font-size:4.5px">C20</text></g>
<g id="n-c25"><rect x="724.3" y="1071.3" width="17.4" height="11.4"/><text class="s m" x="733" y="1078.5" style="font-size:4.5px">C25</text></g>
<g id="data-labels">
<text class="s" x="399.3" y="1075">VDA</text><text class="s" x="399.3" y="1080.8">VIDEO DATA</text><text class="s" x="490" y="1068">P+3.3V</text>
<text class="s" x="549" y="1069">P+3.3V</text><text class="s" x="616" y="1075">VDA</text><text class="s" x="616" y="1080.8">VIDEO DATA</text><text class="s" x="712" y="1075">VDA</text><text class="s" x="747" y="1075">VDA</text>
</g>
<g id="n-dd1"><polygon points="336.7,1094 359.3,1094 359.3,1100 364.7,1111.3 330.3,1111.3 336.7,1100"/><text class="s m" x="347.5" y="1105.5">DATA</text><text class="s m" x="347.5" y="1110">DRIVER</text></g>
<g id="n-dd2"><polygon points="382,1094 404.7,1094 404.7,1100 410.3,1111.3 376,1111.3 382,1100"/><text class="s m" x="393" y="1105.5">DATA</text><text class="s m" x="393" y="1110">DRIVER</text></g>
<g id="n-dd3"><polygon points="427.3,1094 450.3,1094 450.3,1100 455.7,1111.3 421.7,1111.3 427.3,1100"/><text class="s m" x="438.7" y="1105.5">DATA</text><text class="s m" x="438.7" y="1110">DRIVER</text></g>
<g id="n-dd4"><polygon class="k" points="473.3,1094 496,1094 496,1100 501.7,1111.3 467.3,1111.3 473.3,1100"/><text class="s m" x="484.5" y="1105.5">DATA</text><text class="s m" x="484.5" y="1110">DRIVER</text></g>
<g id="n-dd5"><polygon points="553.3,1094 576.7,1094 576.7,1100 581.7,1111.3 547.7,1111.3 553.3,1100"/><text class="s m" x="564.7" y="1105.5">DATA</text><text class="s m" x="564.7" y="1110">DRIVER</text></g>
<g id="n-dd6"><polygon points="598.3,1094 621.7,1094 621.7,1100 627.3,1111.3 593.3,1111.3 598.3,1100"/><text class="s m" x="610.3" y="1105.5">DATA</text><text class="s m" x="610.3" y="1110">DRIVER</text></g>
<g id="n-dd7"><polygon points="644.3,1094 667.7,1094 667.7,1100 673,1111.3 639.3,1111.3 644.3,1100"/><text class="s m" x="656" y="1105.5">DATA</text><text class="s m" x="656" y="1110">DRIVER</text></g>
<g id="n-dd8"><polygon points="690.3,1094 713.7,1094 713.7,1100 718.7,1111.3 684.7,1111.3 690.3,1100"/><text class="s m" x="701.7" y="1105.5">DATA</text><text class="s m" x="701.7" y="1110">DRIVER</text></g>
</svg>
